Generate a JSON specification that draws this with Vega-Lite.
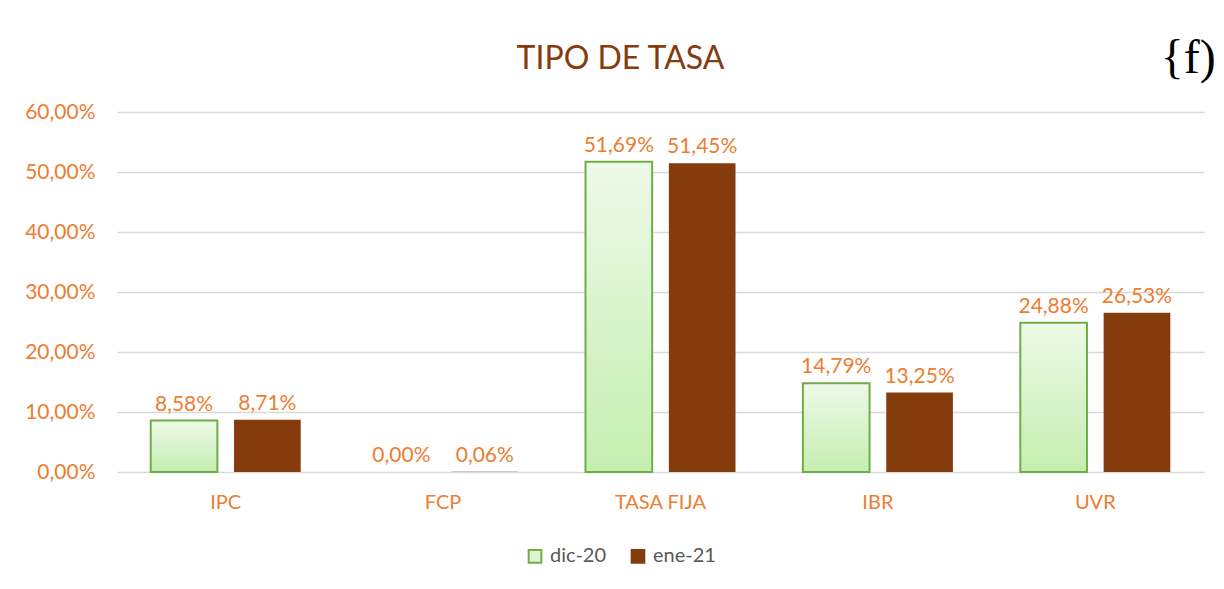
{
  "$schema": "https://vega.github.io/schema/vega-lite/v6.json",
  "width": 1087,
  "height": 360,
  "autosize": {"type": "none"},
  "padding": {"left": 117, "top": 112, "right": 20, "bottom": 117},
  "background": "white",
  "config": {
    "locale": {"number": {"decimal": ",", "thousands": ".", "grouping": [3], "currency": ["", " €"]}},
    "view": {"stroke": null},
    "font": "Lato"
  },
  "title": {
    "text": "TIPO DE TASA",
    "color": "#843C0C",
    "fontSize": 32,
    "fontWeight": "normal",
    "font": "Lato",
    "anchor": "middle",
    "frame": "group",
    "offset": -41,
    "dx": -40
  },
  "datasets": {
    "tasas": [
      {"tipo": "IPC", "periodo": "dic-20", "valor": 0.0858},
      {"tipo": "IPC", "periodo": "ene-21", "valor": 0.0871},
      {"tipo": "FCP", "periodo": "dic-20", "valor": 0.0},
      {"tipo": "FCP", "periodo": "ene-21", "valor": 0.0006},
      {"tipo": "TASA FIJA", "periodo": "dic-20", "valor": 0.5169},
      {"tipo": "TASA FIJA", "periodo": "ene-21", "valor": 0.5145},
      {"tipo": "IBR", "periodo": "dic-20", "valor": 0.1479},
      {"tipo": "IBR", "periodo": "ene-21", "valor": 0.1325},
      {"tipo": "UVR", "periodo": "dic-20", "valor": 0.2488},
      {"tipo": "UVR", "periodo": "ene-21", "valor": 0.2653}
    ],
    "logo": [
      {"tipo": "UVR", "valor": 0.688, "logo": "{f)"}
    ]
  },
  "encoding": {
    "x": {
      "field": "tipo",
      "type": "nominal",
      "sort": ["IPC", "FCP", "TASA FIJA", "IBR", "UVR"],
      "scale": {"paddingInner": 0.31, "paddingOuter": 0.155},
      "axis": {
        "title": null,
        "labelAngle": 0,
        "labelColor": "#ED7D31",
        "labelFontSize": 20,
        "labelFont": "Lato",
        "labelPadding": 20,
        "ticks": false,
        "domain": false
      }
    },
    "y": {
      "field": "valor",
      "type": "quantitative",
      "scale": {"domain": [0, 0.6]},
      "axis": {
        "title": null,
        "format": ".2%",
        "values": [0, 0.1, 0.2, 0.3, 0.4, 0.5, 0.6],
        "labelColor": "#ED7D31",
        "labelFontSize": 21,
        "labelFont": "Lato",
        "labelPadding": 22,
        "ticks": false,
        "domain": false,
        "grid": true,
        "gridColor": "#D9D9D9",
        "gridWidth": 1.5
      }
    }
  },
  "layer": [
    {
      "data": {"name": "tasas"},
      "mark": {"type": "bar", "strokeWidth": 0},
      "encoding": {
        "xOffset": {"field": "periodo", "type": "nominal", "sort": ["dic-20", "ene-21"], "scale": {"paddingInner": 0.2, "paddingOuter": 0}},
        "fill": {
          "field": "periodo",
          "type": "nominal",
          "scale": {"domain": ["dic-20", "ene-21"], "range": ["#DDF5D2", "#843C0C"]},
          "legend": {
            "title": null,
            "orient": "none",
            "direction": "horizontal",
            "legendX": 408,
            "legendY": 434,
            "symbolType": "square",
            "symbolSize": 160,
            "symbolStrokeWidth": 2,
            "labelFontSize": 20,
            "labelFont": "Lato",
            "labelColor": "#595959",
            "columnPadding": 20,
            "labelOffset": 5
          }
        },
        "stroke": {
          "field": "periodo",
          "type": "nominal",
          "scale": {"domain": ["dic-20", "ene-21"], "range": ["#70AD47", "#843C0C"]}
        }
      }
    },
    {
      "data": {"name": "tasas"},
      "transform": [{"filter": "datum.periodo === 'dic-20' && datum.valor > 0"}],
      "mark": {
        "type": "bar",
        "stroke": "#70AD47",
        "strokeWidth": 2,
        "fill": {
          "gradient": "linear",
          "x1": 0, "y1": 0, "x2": 0, "y2": 1,
          "stops": [
            {"offset": 0, "color": "#EDF9E8"},
            {"offset": 1, "color": "#C5EEB0"}
          ]
        }
      },
      "encoding": {
        "xOffset": {"field": "periodo", "type": "nominal", "sort": ["dic-20", "ene-21"], "scale": {"paddingInner": 0.2, "paddingOuter": 0}}
      }
    },
    {
      "data": {"name": "tasas"},
      "mark": {"type": "text", "baseline": "bottom", "dy": -6, "color": "#ED7D31", "fontSize": 21, "font": "Lato"},
      "encoding": {
        "xOffset": {"field": "periodo", "type": "nominal", "sort": ["dic-20", "ene-21"], "scale": {"paddingInner": 0.2, "paddingOuter": 0}},
        "text": {"field": "valor", "type": "quantitative", "format": ".2%"}
      }
    },
    {
      "data": {"name": "logo"},
      "mark": {"type": "text", "font": "Liberation Serif", "fontSize": 48, "color": "#000000", "baseline": "middle", "align": "center", "dx": 93},
      "encoding": {
        "text": {"field": "logo", "type": "nominal"}
      }
    }
  ]
}
